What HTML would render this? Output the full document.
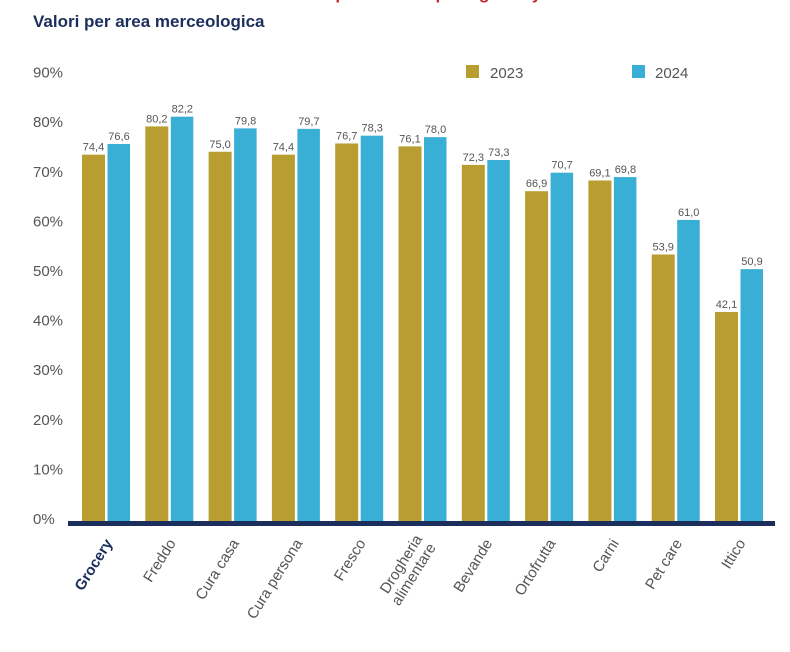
<!DOCTYPE html>
<html><head><meta charset="utf-8">
<style>
body{margin:0;background:#fff;width:790px;height:647px;overflow:hidden;font-family:"Liberation Sans",sans-serif}
</style></head><body>
<svg width="790" height="647" viewBox="0 0 790 647" id="chart">
<text x="33" y="-1" font-size="17" font-weight="bold" fill="#333">Penetrazione del canale e-commerce <tspan fill="#c0282d">per area di spesa grocery</tspan></text>
<text x="33" y="27" font-size="17" font-weight="bold" fill="#1c2f5c">Valori per area merceologica</text>
<rect x="466" y="65" width="13" height="13" fill="#b89d30"/>
<text x="490" y="78" font-size="15" fill="#555">2023</text>
<rect x="632" y="65" width="13" height="13" fill="#3aafd6"/>
<text x="655" y="78" font-size="15" fill="#555">2024</text>
<g id="yaxis"></g><g id="bars"></g><g id="xlabels"></g>
<rect x="68" y="521" width="707" height="5" fill="#1c2f5c"/>
</svg>
<script>
const categories=["Grocery","Freddo","Cura casa","Cura persona","Fresco","Drogheria|alimentare","Bevande","Ortofrutta","Carni","Pet care","Ittico"];
const values2023=[74.4,80.2,75.0,74.4,76.7,76.1,72.3,66.9,69.1,53.9,42.1];
const values2024=[76.6,82.2,79.8,79.7,78.3,78.0,73.3,70.7,69.8,61.0,50.9];
const yTicks=[0,10,20,30,40,50,60,70,80,90];
const NS="http://www.w3.org/2000/svg";
function y(v){return 517-v*4.87;}
function yl(v){return 524-v*4.96;}
function x(i){return 82+i*63.3;}
function el(t,a,p,txt){const e=document.createElementNS(NS,t);for(const k in a)e.setAttribute(k,a[k]);if(txt!==undefined)e.textContent=txt;p.appendChild(e);return e;}
const ya=document.getElementById('yaxis'),bg=document.getElementById('bars'),xl=document.getElementById('xlabels');
yTicks.forEach(t=>{const e=el('text',{x:33,y:yl(t),'font-size':15,fill:'#555'},ya,t+'%');

});
function fmt(v){return v.toFixed(1).replace('.',',');}
categories.forEach((c,i)=>{
 const x0=x(i);
 const b1=el('rect',{x:x0,y:y(values2023[i]),width:23,height:522-y(values2023[i]),fill:'#b89d30'},bg);
 
 
 const b2=el('rect',{x:x0+25.5,y:y(values2024[i]),width:22.5,height:522-y(values2024[i]),fill:'#3aafd6'},bg);
 
 
 const l1=el('text',{x:x0+11.5,y:y(values2023[i])-4,'font-size':11,fill:'#555','text-anchor':'middle'},bg,fmt(values2023[i]));
 
 
 const l2=el('text',{x:x0+37,y:y(values2024[i])-4,'font-size':11,fill:'#555','text-anchor':'middle'},bg,fmt(values2024[i]));
 
 
 const lines=c.split('|');
 const cx=x0+31, cy=543;
 const g=el('g',{transform:`translate(${cx},${cy}) rotate(-58)`},xl);
 
 
 lines.forEach((ln,j)=>{
  el('text',{x:0,y:j*16-(lines.length-1)*8,'font-size':15,'text-anchor':'end',fill:i===0?'#1c2f5c':'#555','font-weight':i===0?'bold':'normal'},g,ln);
 });
});
</script>
</body></html>
